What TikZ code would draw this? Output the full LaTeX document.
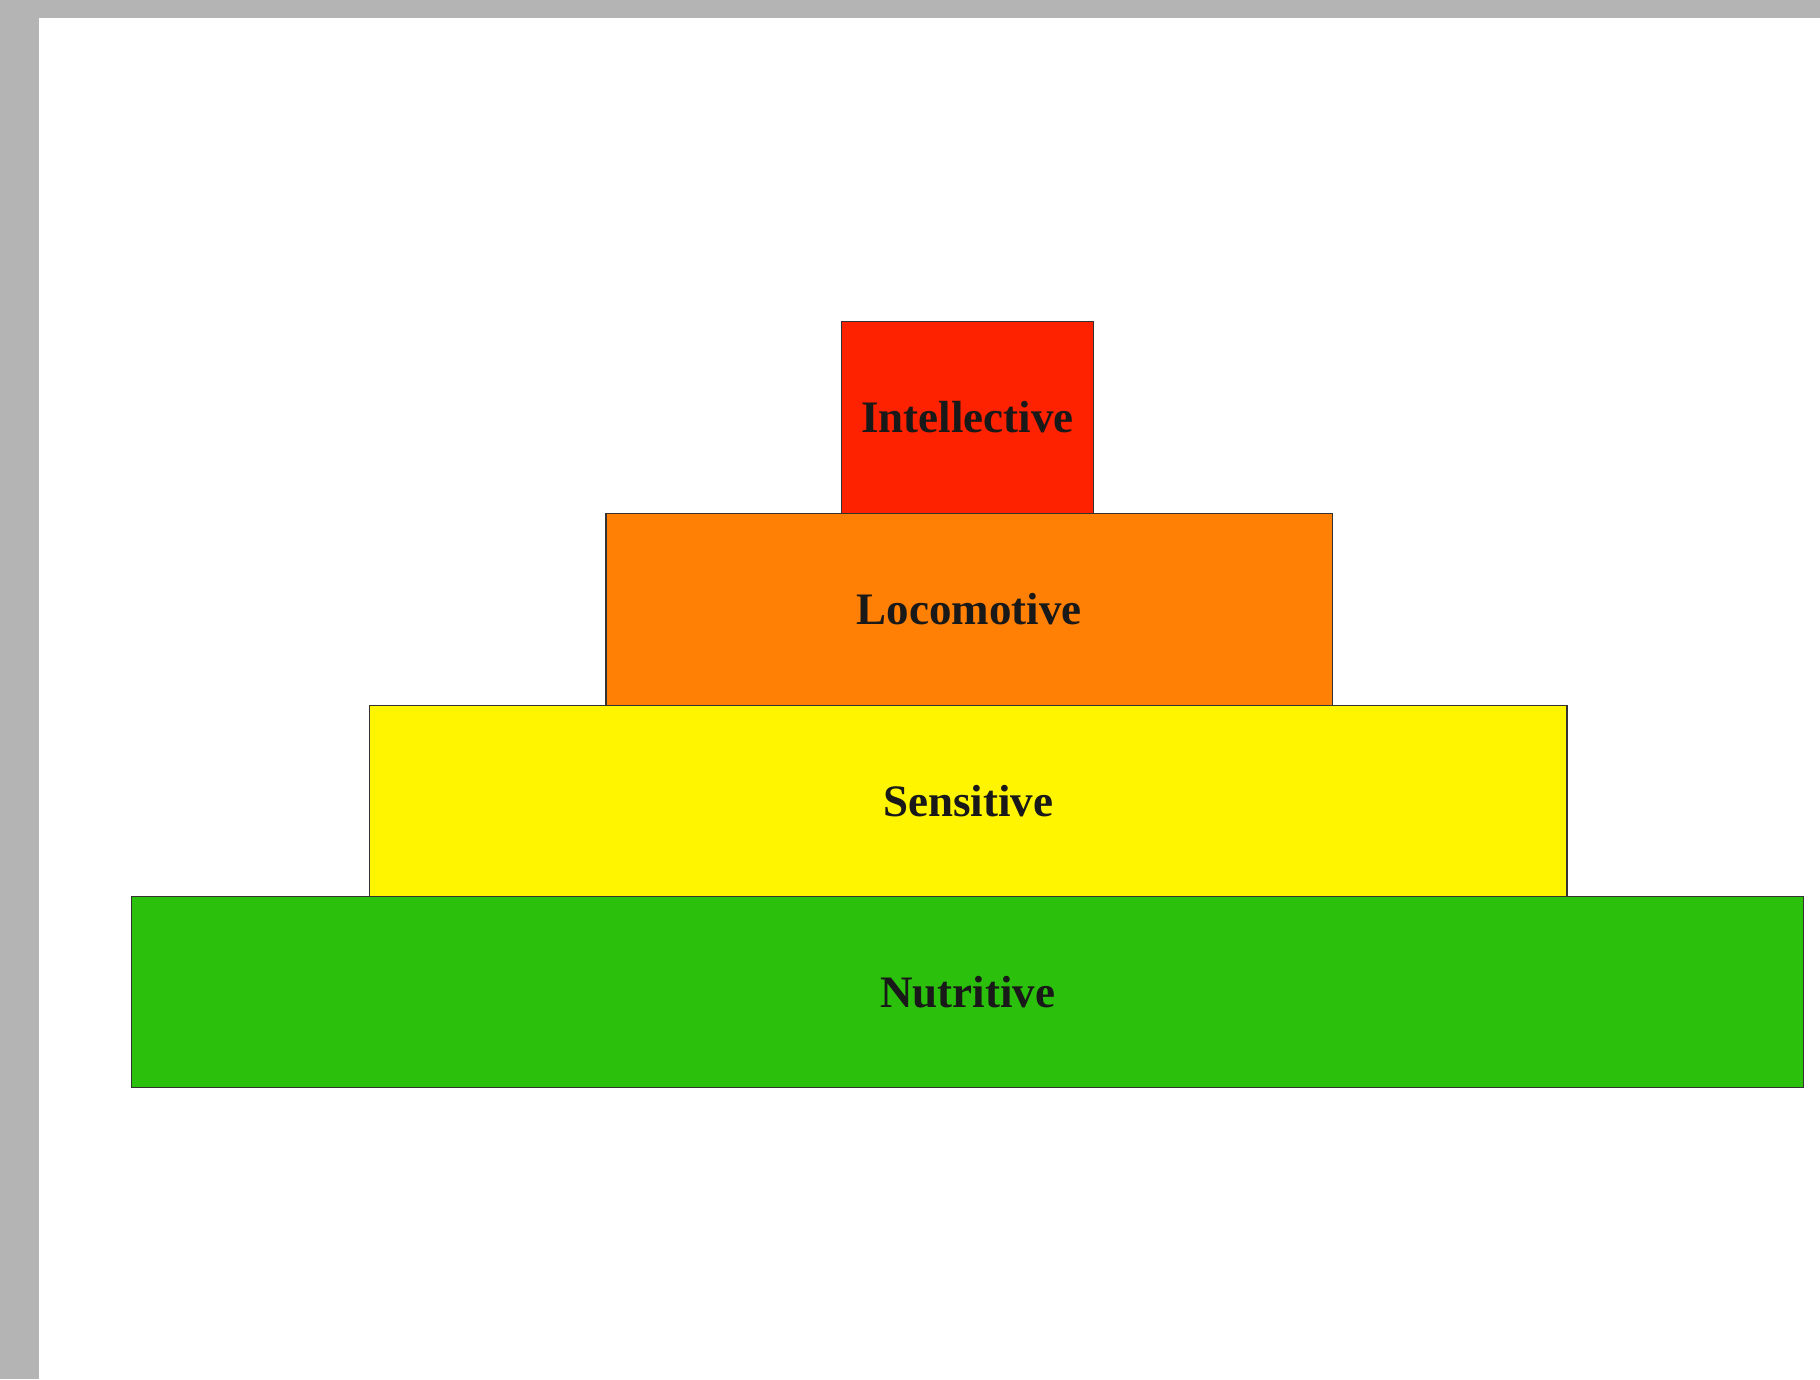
\documentclass[tikz,border=0pt]{standalone}
\usepackage{fontspec}
\setmainfont{Liberation Serif}
\begin{document}
\begin{tikzpicture}[x=1pt,y=-1pt,
  tier/.style={draw=black!80, line width=1.5pt, inner sep=0pt, font=\fontsize{45}{54}\selectfont\bfseries, text=black!90}]
\definecolor{gframe}{HTML}{B4B4B4}
\definecolor{cred}{HTML}{FF2200}
\definecolor{corange}{HTML}{FF8005}
\definecolor{cyellow}{HTML}{FFF500}
\definecolor{cgreen}{HTML}{2BC00B}
\useasboundingbox (0,0) rectangle (1820,1379);
\fill[gframe] (0,0) rectangle (1820,1379);
\fill[white] (39,18) rectangle (1820,1379);
\node[tier, fill=cgreen, minimum width=1672pt, minimum height=191pt] (nut) at (967.5,992) {Nutritive};
\node[tier, fill=cyellow, minimum width=1197.5pt, minimum height=191pt] (sen) at (968,801) {Sensitive};
\node[tier, fill=corange, minimum width=726.5pt, minimum height=192pt] (loc) at (969.2,609.5) {Locomotive};
\node[tier, fill=cred, minimum width=251.6pt, minimum height=191.6pt] (int) at (967.5,417.5) {Intellective};
\end{tikzpicture}
\end{document}
